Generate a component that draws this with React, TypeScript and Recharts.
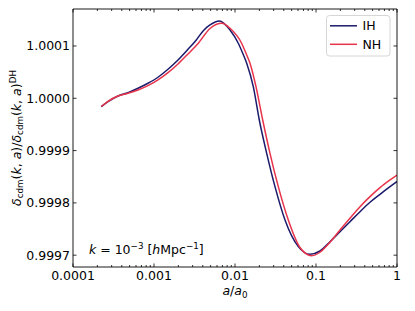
import React from "react";
import { LineChart, Line, XAxis, YAxis, Customized } from "recharts";

const seriesNames = ["IH", "NH"];
const seriesColors = ["#1b1a6b", "#e8334a"];

const ihA = [0.0002236, 0.0002704, 0.0003594, 0.0004775, 0.0006345, 0.000843, 0.0011205, 0.001489, 0.001978, 0.002629, 0.003328, 0.004061, 0.004912, 0.0064, 0.008675, 0.010983, 0.01245, 0.013946, 0.01682, 0.01995, 0.02462, 0.03117, 0.04143, 0.06046, 0.0843, 0.11205, 0.1489, 0.1978, 0.2629, 0.3494, 0.4642, 0.6166, 0.8195, 1.0];
const ihV = [0.9999839, 0.9999935, 1.0000044, 1.0000107, 1.0000191, 1.0000287, 1.0000402, 1.0000554, 1.0000732, 1.0000937, 1.0001115, 1.0001293, 1.0001402, 1.0001478, 1.0001306, 1.0001052, 1.000086, 1.0000669, 1.0000222, 0.9999585, 0.9998948, 0.999831, 0.9997673, 0.9997163, 0.9997017, 0.999708, 0.9997258, 0.9997449, 0.9997641, 0.9997832, 0.9998012, 0.9998164, 0.999831, 0.9998409];

const nhA = [0.0002236, 0.0002704, 0.0003594, 0.0004775, 0.0006345, 0.000843, 0.0011205, 0.001489, 0.001978, 0.002629, 0.003523, 0.004912, 0.00691, 0.008675, 0.012065, 0.013667, 0.015314, 0.018163, 0.02198, 0.02704, 0.03424, 0.0455, 0.06345, 0.0885, 0.11205, 0.1489, 0.1978, 0.2629, 0.3494, 0.4642, 0.6166, 0.8195, 1.0];
const nhV = [0.9999843, 0.9999943, 1.0000044, 1.0000096, 1.0000159, 1.0000241, 1.000035, 1.0000489, 1.0000656, 1.0000847, 1.0001052, 1.0001335, 1.0001434, 1.0001338, 1.0001052, 1.000086, 1.0000669, 1.0000222, 0.9999585, 0.9998948, 0.999831, 0.9997673, 0.9997147, 0.999699, 0.9997056, 0.9997247, 0.9997482, 0.9997706, 0.9997927, 0.9998119, 0.9998291, 0.9998438, 0.9998533];

const xMajorTicks = [0.0001, 0.001, 0.01, 0.1, 1];
const xMajorLabels = ["0.0001", "0.001", "0.01", "0.1", "1"];
const xMinorMultipliers = [2, 3, 4, 5, 6, 7, 8, 9];
const yTicks = [0.9997, 0.9998, 0.9999, 1.0, 1.0001];
const xDomain = [0.0001, 1];
const yDomain = [0.9996774, 1.0001707];

const ihData = ihA.map((a, i) => ({ a, v: ihV[i] }));
const nhData = nhA.map((a, i) => ({ a, v: nhV[i] }));

const xMinorTicks: number[] = [];
for (let d = 0; d < 4; d++) {
  for (const m of xMinorMultipliers) xMinorTicks.push(Number((m * xMajorTicks[d]).toPrecision(3)));
}
const xAllTicks = [...xMajorTicks, ...xMinorTicks].sort((p, q) => p - q);

const FONT = "DejaVu Sans";
const FS = 12.5;

const isMajor = (v: number) => xMajorTicks.some((t) => Math.abs(t - v) / t < 1e-6);

const BottomTick = (props: any) => {
  const { x, y, payload } = props;
  const major = isMajor(payload.value);
  const idx = xMajorTicks.findIndex((t) => Math.abs(t - payload.value) / t < 1e-6);
  return (
    <g>
      <line x1={x} x2={x} y1={y} y2={y - (major ? 3.5 : 2)} stroke="#000" strokeWidth={0.8} />
      {major && (
        <text x={x} y={y + 12.5} textAnchor="middle" fontFamily={FONT} fontSize={FS} fill="#000">
          {xMajorLabels[idx]}
        </text>
      )}
    </g>
  );
};

const TopTick = (props: any) => {
  const { x, y, payload } = props;
  const major = isMajor(payload.value);
  return <line x1={x} x2={x} y1={y} y2={y + (major ? 3.5 : 2)} stroke="#000" strokeWidth={0.8} />;
};

const LeftTick = (props: any) => {
  const { x, y, payload } = props;
  return (
    <g>
      <line x1={x} x2={x + 3.5} y1={y} y2={y} stroke="#000" strokeWidth={0.8} />
      <text x={x - 3} y={y + 4.5} textAnchor="end" fontFamily={FONT} fontSize={FS} fill="#000">
        {Number(payload.value).toFixed(4)}
      </text>
    </g>
  );
};

const RightTick = (props: any) => {
  const { x, y } = props;
  return <line x1={x} x2={x - 3.5} y1={y} y2={y} stroke="#000" strokeWidth={0.8} />;
};

const Decorations = () => {
  const sub = FS * 0.7;
  return (
    <g fontFamily={FONT} fontSize={FS} fill="#000">
      <text x={89} y={253.5}>
        <tspan fontStyle="italic">k</tspan>
        <tspan> = 10</tspan>
        <tspan fontSize={sub} dy={-5}>−3</tspan>
        <tspan dy={5}> [</tspan>
        <tspan fontStyle="italic">h</tspan>
        <tspan>Mpc</tspan>
        <tspan fontSize={sub} dy={-5}>−1</tspan>
        <tspan dy={5}>]</tspan>
      </text>
      <text x={235} y={295} textAnchor="middle">
        <tspan fontStyle="italic">a</tspan>
        <tspan>/</tspan>
        <tspan fontStyle="italic">a</tspan>
        <tspan fontSize={sub} dy={2.5}>0</tspan>
      </text>
      <text x={0} y={0} textAnchor="middle" transform="translate(20.5,138) rotate(-90)">
        <tspan fontStyle="italic">δ</tspan>
        <tspan fontSize={sub} dy={2.5}>cdm</tspan>
        <tspan dy={-2.5}>(</tspan>
        <tspan fontStyle="italic">k</tspan>
        <tspan>, </tspan>
        <tspan fontStyle="italic">a</tspan>
        <tspan>)/</tspan>
        <tspan fontStyle="italic">δ</tspan>
        <tspan fontSize={sub} dy={2.5}>cdm</tspan>
        <tspan dy={-2.5}>(</tspan>
        <tspan fontStyle="italic">k</tspan>
        <tspan>, </tspan>
        <tspan fontStyle="italic">a</tspan>
        <tspan>)</tspan>
        <tspan fontSize={sub} dy={-5}>DH</tspan>
      </text>
      <rect x={326.5} y={15.5} width={63.5} height={40.5} rx={3} ry={3} fill="#fff" fillOpacity={0.8} stroke="#cccccc" strokeWidth={0.8} />
      {seriesNames.map((n, i) => {
        const yy = 25.8 + i * 18.5;
        return (
          <g key={n}>
            <line x1={330} x2={357} y1={yy} y2={yy} stroke={seriesColors[i]} strokeWidth={1.5} />
            <text x={362.5} y={yy + 4.5}>{n}</text>
          </g>
        );
      })}
    </g>
  );
};

export default function App() {
  return (
    <div style={{ position: "absolute", left: 0, top: 0, width: 415, height: 311, background: "#fff" }}>
      <LineChart width={415} height={311} margin={{ top: 8, right: 17, left: 0, bottom: 0 }}>
        <XAxis
          xAxisId="b"
          dataKey="a"
          type="number"
          scale="log"
          domain={xDomain}
          allowDataOverflow
          ticks={xAllTicks}
          interval={0}
          tickSize={0}
          tickMargin={0}
          height={44}
          tick={<BottomTick />}
          axisLine={{ stroke: "#000", strokeWidth: 0.9 }}
        />
        <XAxis
          xAxisId="t"
          orientation="top"
          dataKey="a"
          type="number"
          scale="log"
          domain={xDomain}
          allowDataOverflow
          ticks={xAllTicks}
          interval={0}
          tickSize={0}
          tickMargin={0}
          height={1}
          tick={<TopTick />}
          axisLine={{ stroke: "#000", strokeWidth: 0.9 }}
        />
        <YAxis
          yAxisId="l"
          type="number"
          domain={yDomain}
          allowDataOverflow
          ticks={yTicks}
          interval={0}
          tickSize={0}
          tickMargin={0}
          width={73}
          tick={<LeftTick />}
          axisLine={{ stroke: "#000", strokeWidth: 0.9 }}
        />
        <YAxis
          yAxisId="r"
          orientation="right"
          type="number"
          domain={yDomain}
          allowDataOverflow
          ticks={yTicks}
          interval={0}
          tickSize={0}
          tickMargin={0}
          width={1}
          tick={<RightTick />}
          axisLine={{ stroke: "#000", strokeWidth: 0.9 }}
        />
        <Line
          xAxisId="t"
          yAxisId="r"
          data={ihData}
          dataKey="v"
          type="monotone"
          stroke="none"
          strokeWidth={0}
          dot={false}
          legendType="none"
          isAnimationActive={false}
        />
        <Line
          xAxisId="b"
          yAxisId="l"
          data={ihData}
          dataKey="v"
          name={seriesNames[0]}
          type="monotone"
          stroke={seriesColors[0]}
          strokeWidth={1.5}
          dot={false}
          isAnimationActive={false}
        />
        <Line
          xAxisId="b"
          yAxisId="l"
          data={nhData}
          dataKey="v"
          name={seriesNames[1]}
          type="monotone"
          stroke={seriesColors[1]}
          strokeWidth={1.5}
          dot={false}
          isAnimationActive={false}
        />
        <Customized component={Decorations} />
      </LineChart>
    </div>
  );
}
